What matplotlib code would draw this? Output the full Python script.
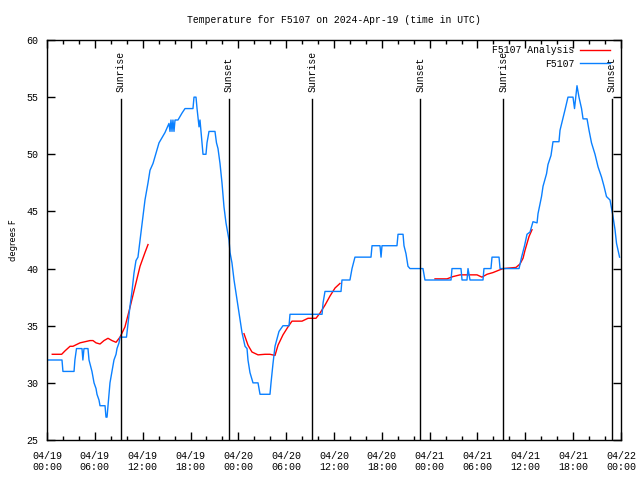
import numpy as np
import matplotlib
matplotlib.use('Agg')
import matplotlib.pyplot as plt
from matplotlib.ticker import MultipleLocator

plt.rcParams['font.family'] = ['Liberation Mono', 'DejaVu Sans Mono']

# hours since 2024-04-19 00:00 UTC
obs_hours = [0.13, 1.88, 2.0, 3.39, 3.5, 3.7, 4.39, 4.5, 4.64, 5.14, 5.27, 5.46, 5.64, 5.9,
             6.15, 6.27, 6.52, 6.65, 7.28, 7.4, 7.53, 7.65, 7.9, 8.15, 8.4, 8.66, 8.78, 9.03,
             9.16, 9.97, 10.16, 10.41, 10.66, 10.91, 11.16, 11.41, 11.73, 12.04, 12.29, 12.67,
             12.92, 13.3, 13.67, 14.05, 14.8, 15.3, 15.43, 15.55, 15.68, 15.8, 15.93, 16.06,
             16.43, 16.93, 17.31, 18.31, 18.44, 18.69, 18.82, 19.07, 19.19, 19.32, 19.57, 19.94,
             20.07, 20.32, 21.07, 21.26, 21.45, 21.7, 21.95, 22.2, 22.45, 22.7, 22.83, 22.96,
             23.2, 23.46, 23.7, 23.96, 24.21, 24.46, 24.84, 25.09, 25.21, 25.46, 25.84, 26.47,
             26.72, 27.97, 28.1, 28.35, 28.6, 29.1, 29.6, 30.36, 30.48, 34.5, 34.63, 34.87,
             36.88, 37.0, 38.0, 38.26, 38.63, 40.64, 40.77, 41.77, 41.9, 42.02, 43.9, 44.03,
             44.66, 44.78, 45.03, 45.28, 45.53, 47.16, 47.41, 50.68, 50.8, 51.93, 52.06, 52.68,
             52.81, 53.06, 54.69, 54.81, 55.69, 55.82, 56.7, 56.83, 59.21, 59.53, 59.9, 60.21,
             60.59, 60.96, 61.47, 61.59, 62.03, 62.22, 62.66, 62.84, 63.22, 63.47, 64.22, 64.35,
             64.67, 64.98, 65.35, 65.98, 66.17, 66.48, 66.73, 67.05, 67.24, 67.74, 67.99, 68.3,
             68.74, 69.12, 69.56, 69.87, 70.18, 70.62, 70.94, 71.25, 71.44, 71.82]
obs_temp = [32, 32, 31, 31, 32, 33, 33, 32, 33, 33, 32, 31.5, 31, 30,
            29.5, 29, 28.5, 28, 28, 27, 27, 28, 30, 31, 32, 32.5, 33, 33.5,
            34, 34, 35.2, 36.7, 38, 39.6, 40.7, 41, 42.8, 44.5, 46, 47.5,
            48.6, 49.2, 50.1, 51, 51.9, 52.7, 52, 53, 52, 53, 52, 53,
            53, 53.6, 54, 54, 55, 55, 54, 52.4, 53, 52, 50, 50,
            51, 52, 52, 51, 50.5, 49.2, 47.5, 45.4, 44, 43, 42.5, 41.4,
            40.5, 39, 37.9, 36.7, 35.5, 34.4, 33.2, 33, 32, 30.9, 30, 30,
            29, 29, 30, 31.7, 33.2, 34.5, 35, 35, 36, 36, 37, 38,
            38, 39, 39, 40, 41, 41, 42, 42, 41, 42, 42, 43,
            43, 42, 41.3, 40.2, 40, 40, 39, 39, 40, 40, 39, 39,
            40, 39, 39, 40, 40, 41, 41, 40, 40, 41, 42, 43,
            43.2, 44.1, 44, 44.8, 46.3, 47.2, 48.3, 49.1, 49.9, 51.1, 51.1, 52.1,
            53, 53.9, 55, 55, 54, 56, 55, 54, 53.1, 53.1, 52.1, 51,
            50, 48.9, 48, 47.2, 46.3, 46, 44.8, 43.4, 42.2, 41]

# analysis comes in three separate runs
ana_hours = [
    [0.66, 1.84, 2.26, 2.89, 3.26, 4.14, 4.77, 5.39, 5.77, 6.15, 6.65, 7.15, 7.65, 8.15,
     8.66, 9.16, 9.78, 10.41, 11.04, 11.67, 12.29, 12.67],
    [24.71, 25.21, 25.71, 26.47, 27.35, 27.97, 28.6, 28.98, 29.6, 30.23, 30.73, 31.99,
     32.74, 33.74, 34.24, 34.87, 35.5, 36.13, 36.75],
    [48.67, 50.18, 50.93, 51.81, 53.06, 53.94, 54.56, 55.19, 55.94, 56.83, 57.22, 58.83,
     59.33, 59.71, 59.96, 60.21, 60.46, 60.84],
]
ana_temp = [
    [32.5, 32.5, 32.8, 33.2, 33.2, 33.5, 33.6, 33.7, 33.7, 33.5, 33.4, 33.7, 33.9, 33.7,
     33.55, 34.0, 34.9, 36.6, 38.4, 40.2, 41.4, 42.1],
    [34.3, 33.3, 32.7, 32.45, 32.5, 32.5, 32.4, 33.3, 34.2, 34.9, 35.4, 35.4,
     35.65, 35.65, 36.1, 36.8, 37.6, 38.3, 38.7],
    [39.1, 39.1, 39.3, 39.45, 39.45, 39.45, 39.25, 39.5, 39.65, 39.9, 40.0, 40.1,
     40.4, 40.9, 41.6, 42.2, 42.8, 43.4],
]

sun_hours = [9.28, 22.83, 33.25, 46.85, 57.22, 70.87]
sun_labels = ['Sunrise', 'Sunset', 'Sunrise', 'Sunset', 'Sunrise', 'Sunset']

tick_hours = [0, 6, 12, 18, 24, 30, 36, 42, 48, 54, 60, 66, 72]
tick_labels = ['04/19\n00:00', '04/19\n06:00', '04/19\n12:00', '04/19\n18:00',
               '04/20\n00:00', '04/20\n06:00', '04/20\n12:00', '04/20\n18:00',
               '04/21\n00:00', '04/21\n06:00', '04/21\n12:00', '04/21\n18:00',
               '04/22\n00:00']

fig = plt.figure(figsize=(6.4, 4.8), dpi=100)
ax = fig.add_axes([47 / 640, 40 / 480, 574 / 640, 400 / 480])

for i in range(len(ana_hours)):
    ax.plot(ana_hours[i], ana_temp[i], color='red', lw=1.0,
            label='F5107 Analysis' if i == 0 else None)
ax.plot(obs_hours, obs_temp, color='#0a80ff', lw=1.0, label='F5107')

line_top = (440 - 99) / 400
for h, lab in zip(sun_hours, sun_labels):
    ax.axvline(h, ymin=0, ymax=line_top, color='black', lw=1.0)
    ax.text(h, (440 - 92) / 400, lab, rotation=90, ha='center', va='bottom',
            fontsize=7, transform=ax.get_xaxis_transform())

ax.set_xlim(0, 72)
ax.set_ylim(25, 60)
ax.set_xticks(tick_hours)
ax.set_xticklabels(tick_labels, fontsize=7.2, linespacing=1.15)
ax.xaxis.set_minor_locator(MultipleLocator(2))
ax.set_yticks(range(25, 61, 5))
ax.tick_params(axis='y', labelsize=7.2, pad=6)
ax.tick_params(axis='x', pad=8)
ax.tick_params(which='both', direction='in', top=True, right=True)
ax.tick_params(which='major', length=6, width=1)
ax.tick_params(which='minor', length=3, width=1)
for s in ax.spines.values():
    s.set_linewidth(1.0)

ax.set_ylabel('degrees F', fontsize=6, family='DejaVu Sans')
ax.yaxis.set_label_coords(-0.05, 0.5)
ax.set_title('Temperature for F5107 on 2024-Apr-19 (time in UTC)', fontsize=7, pad=12.5)

ax.legend(loc='upper right', bbox_to_anchor=(0.981, 0.987), frameon=False, fontsize=7,
          markerfirst=False, handlelength=3.1, borderaxespad=0.0, borderpad=0.0,
          labelspacing=0.35, handletextpad=0.6)

fig.savefig('out.png', dpi=100)
